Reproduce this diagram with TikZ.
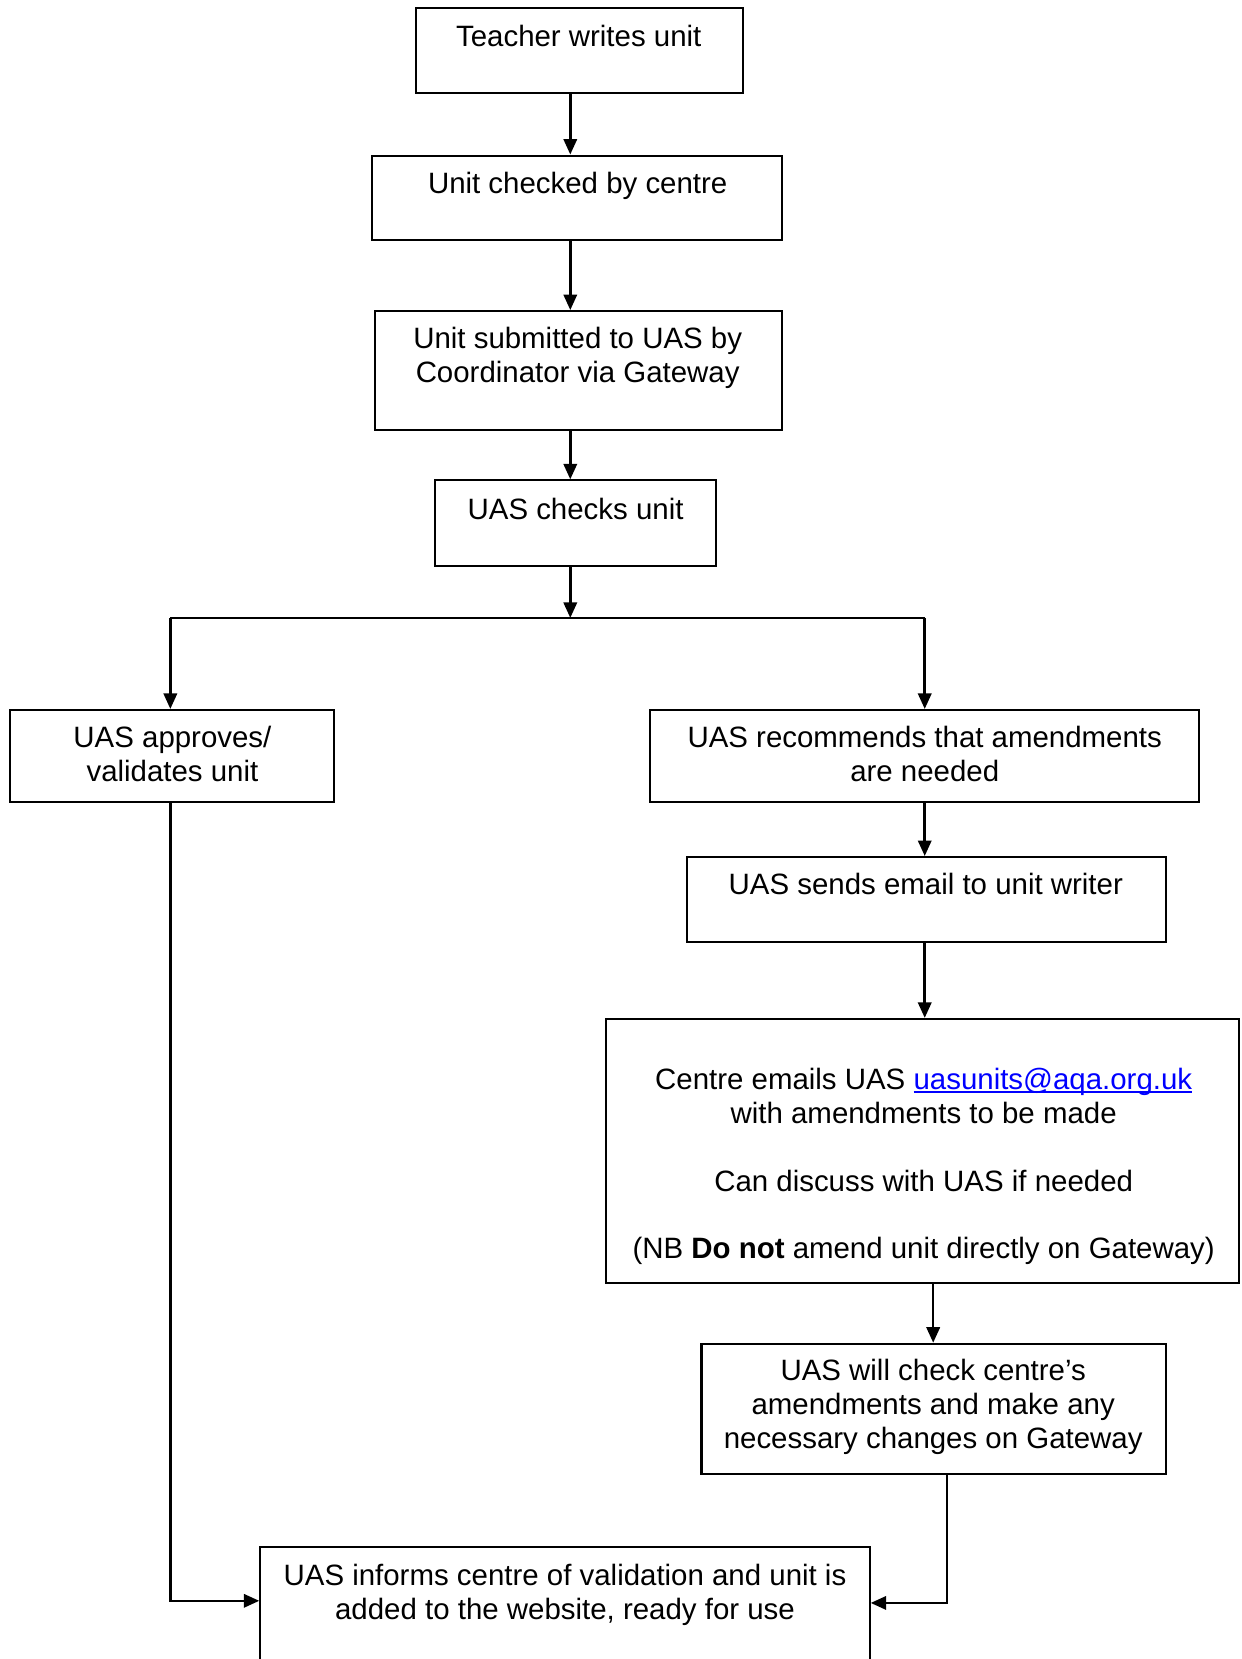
\documentclass[tikz,border=0pt]{standalone}
\usepackage{fontspec}
\setmainfont{Liberation Sans}
\usetikzlibrary{arrows.meta,fit,calc}
\newcommand\myul[1]{\setbox0\hbox{#1}\rlap{\rule[-1.5pt]{\wd0}{0.8pt}}\box0}
\begin{document}
\begin{tikzpicture}[x=0.444pt,y=-0.444pt,
  box/.style={draw, line width=0.85pt, inner sep=0pt, rectangle},
  txt/.style={anchor=north, inner sep=0pt, align=center, font=\fontsize{12.35}{14.2}\selectfont},
  arr/.style={line width=1.05pt, -{Triangle[length=6.5pt,width=5.6pt]}},
  ln/.style={line width=1.05pt}]
\useasboundingbox (0,0) rectangle (1173,1568);
\clip (0,0) rectangle (1173,1568);
% boxes
\node[box, fit={(393,8) (702,88)}] (b1) {};
\node[box, fit={(352,147) (739,227)}] (b2) {};
\node[box, fit={(354,294) (739,406)}] (b3) {};
\node[box, fit={(411,454) (677,535)}] (b4) {};
\node[box, fit={(9,671) (316,758)}] (b5) {};
\node[box, fit={(614,671) (1133,758)}] (b6) {};
\node[box, fit={(649,810) (1102,890)}] (b7) {};
\node[box, fit={(573,963) (1171,1213)}] (b8) {};
\node[box, fit={(663,1270) (1102,1393)}] (b9) {};
\node[box, fit={(246,1462) (822,1620)}] (b10) {};
% texts
\node[txt] (t1) at (547,21) {\strut Teacher writes unit};
\node[txt] (t2) at (546,160) {\strut Unit checked by centre};
\node[txt] (t3) at (546,307) {\strut Unit submitted to UAS by\\ Coordinator via Gateway};
\node[txt] (t4) at (544,468) {\strut UAS checks unit};
\node[txt] (t5) at (163,684) {\strut UAS approves/\\ validates unit};
\node[txt] (t6) at (874,684) {\strut UAS recommends that amendments\\ are needed};
\node[txt] (t7) at (875,823) {\strut UAS sends email to unit writer};
\node[txt] (t8) at (873,1007) {\strut Centre emails UAS \textcolor{blue}{\myul{uasunits@aqa.org.uk}}\\ with amendments to be made\\[14.2pt] Can discuss with UAS if needed\\[14.2pt] (NB \textbf{Do not} amend unit directly on Gateway)};
\node[txt] (t9) at (882,1282) {\strut UAS will check centre’s\\ amendments and make any\\ necessary changes on Gateway};
\node[txt] (t10) at (534,1476) {\strut UAS informs centre of validation and unit is\\ added to the website, ready for use};
% connectors
\coordinate (cx) at (539,0);
\draw[arr] (cx |- b1.south) -- (cx |- b2.north);
\draw[arr] (cx |- b2.south) -- (cx |- b3.north);
\draw[arr] (cx |- b3.south) -- (cx |- b4.north);
\coordinate (sp) at (539,584);
\draw[arr] (cx |- b4.south) -- (sp);
\coordinate (L) at (161,584);
\coordinate (R) at (874,584);
\draw[ln] (L) -- (R);
\draw[arr] (L) -- (L |- b5.north);
\draw[arr] (R) -- (R |- b6.north);
\draw[arr] (R |- b6.south) -- (R |- b7.north);
\draw[arr] (R |- b7.south) -- (R |- b8.north);
\coordinate (c9) at (882,0);
\draw[arr] (c9 |- b8.south) -- (c9 |- b9.north);
\coordinate (jl) at (161,1513);
\draw[arr] (L |- b5.south) -- (jl) -- (jl -| b10.west);
\coordinate (jr) at (895,1515);
\draw[arr] (jr |- b9.south) -- (jr) -- (jr -| b10.east);
\end{tikzpicture}
\end{document}
